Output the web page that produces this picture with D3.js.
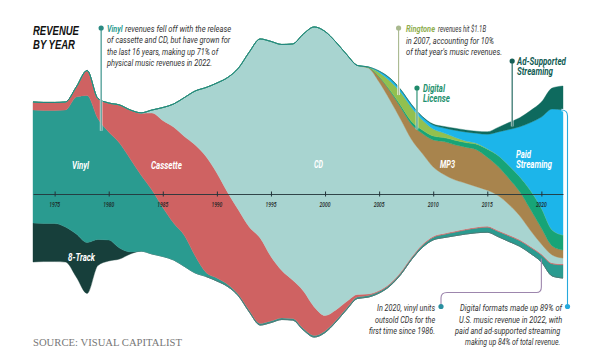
<!DOCTYPE html>
<html><head><meta charset="utf-8">
<script src="https://cdn.jsdelivr.net/npm/d3@7"></script>
<style>
html,body{margin:0;padding:0;background:#fff;}
svg{display:block;}
</style></head><body>
<svg id="chart" width="600" height="357"></svg>
<script>
// ---------------- DATA (US music revenue by format, $B, inflation-adjusted) ----------------
const years = [1973,1974,1975,1976,1977,1978,1979,1980,1981,1982,
  1983,1984,1985,1986,1987,1988,1989,1990,1991,1992,
  1993,1994,1995,1996,1997,1998,1999,2000,2001,2002,
  2003,2004,2005,2006,2007,2008,2009,2010,2011,2012,
  2013,2014,2015,2016,2017,2018,2019,2020,2021,2022];

const eightTrack = [3.25,3.17,3.17,2.92,3.58,4.25,2.17,1.75,0.92,0.17,
  0,0,0,0,0,0,0,0,0,0, 0,0,0,0,0,0,0,0,0,0,
  0,0,0,0,0,0,0,0,0,0, 0,0,0,0,0,0,0,0,0,0];

const vinyl = [9.42,9.42,9.42,9.75,11.42,12.25,10.08,9.0,8.75,7.75,
  6.33,5.33,4.08,3.08,2.58,1.42,0.33,0.25,0.17,0.13,
  0.13,0.13,0.13,0.13,0.13,0.13,0.13,0.13,0.13,0.13,
  0.13,0.13,0.13,0.13,0.13,0.13,0.17,0.21,0.25,0.29,
  0.33,0.38,0.42,0.42,0.46,0.46,0.5,0.58,1.0,1.08];

const cassette = [0.67,0.67,0.67,0.67,0.83,2.08,1.67,2.42,3.17,4.08,
  5.17,6.42,7.25,8.0,8.25,9.25,9.67,8.75,7.67,7.04,
  6.96,7.13,5.38,3.96,3.21,3.13,2.38,1.29,0.88,0.54,
  0.21,0.13,0.08,0.08,0.08,0.08,0.08,0.08,0.08,0.08,
  0.08,0.08,0.08,0.08,0.08,0.08,0.08,0.08,0.08,0.08];

const cd = [0,0,0,0,0,0,0,0,0,0,
  0.03,0.25,1.08,1.92,3.25,4.5,5.75,7.5,9.58,11.83,
  14.58,16.58,17.92,18.83,19.67,21.42,23.33,23.67,22.33,20.58,
  19.08,18.83,17.38,15.29,12.71,9.79,7.58,5.79,4.92,4.29,
  3.83,3.38,3.0,2.92,2.54,2.0,1.33,0.83,0.67,0.5];

const mp3 = [0,0,0,0,0,0,0,0,0,0, 0,0,0,0,0,0,0,0,0,0, 0,0,0,0,0,0,0,0,0,0,
  0,0.05,0.42,0.75,1.0,1.25,1.67,2.25,2.75,2.92,
  3.0,3.08,2.75,2.42,2.17,2.0,1.75,1.33,0.75,0.67];

const digitalLicense = [0,0,0,0,0,0,0,0,0,0, 0,0,0,0,0,0,0,0,0,0, 0,0,0,0,0,0,0,0,0,0,
  0,0.01,0.04,0.08,0.17,0.25,0.29,0.33,0.33,0.38,
  0.38,0.46,0.67,0.92,1.08,1.25,1.58,1.67,1.33,1.25];

const ringtone = [0,0,0,0,0,0,0,0,0,0, 0,0,0,0,0,0,0,0,0,0, 0,0,0,0,0,0,0,0,0,0,
  0,0.02,0.33,0.75,1.08,1.17,0.83,0.58,0.38,0.25,
  0.13,0.08,0.03,0,0,0,0,0,0,0];

const paidStreaming = [0,0,0,0,0,0,0,0,0,0, 0,0,0,0,0,0,0,0,0,0, 0,0,0,0,0,0,0,0,0,0,
  0,0.01,0.11,0.21,0.21,0.21,0.25,0.33,0.42,0.58,
  0.75,0.83,1.21,1.96,3.0,4.17,5.67,7.58,10.08,10.42];

const adSupported = [0,0,0,0,0,0,0,0,0,0, 0,0,0,0,0,0,0,0,0,0, 0,0,0,0,0,0,0,0,0,0,
  0,0,0.02,0.04,0.04,0.04,0.04,0.08,0.13,0.17,
  0.17,0.17,0.21,0.38,0.58,0.75,1.0,1.25,1.75,2.0];

const tickYears = [1975,1980,1985,1990,1995,2000,2005,2010,2015,2020];

// ---------------- STYLE ----------------
const keys = ["eightTrack","vinyl","cassette","cd","mp3","digitalLicense","ringtone","paidStreaming","adSupported"];
const colors = {
  eightTrack:"#173f3b", vinyl:"#2a9b90", cassette:"#cf6262", cd:"#a8d4d0",
  mp3:"#a8844d", digitalLicense:"#17a477", ringtone:"#92c04f",
  paidStreaming:"#1cb5ea", adSupported:"#0e6a5e"
};
const SANS = "Roboto, 'Noto Sans', sans-serif";
const seriesByKey = {eightTrack, vinyl, cassette, cd, mp3, digitalLicense, ringtone, paidStreaming, adSupported};

const table = years.map((yr, i) => {
  const row = {year: yr};
  keys.forEach(k => row[k] = seriesByKey[k][i]);
  return row;
});

const svg = d3.select("#chart");
const x = d3.scaleLinear().domain([1973, 2022]).range([33, 563]);
const y = d3.scaleLinear().domain([-14.5, 14.5]).range([356, 8]);

const stack = d3.stack().keys(keys).order(d3.stackOrderNone).offset(d3.stackOffsetSilhouette);
const layers = stack(table);

const area = d3.area()
  .x(d => x(d.data.year))
  .y0(d => y(d[0]))
  .y1(d => y(d[1]))
  .curve(d3.curveMonotoneX);

svg.append("g").selectAll("path").data(layers).join("path")
  .attr("d", area)
  .attr("fill", d => colors[d.key])
  .attr("stroke", d => colors[d.key])
  .attr("stroke-width", 0.4);

// thin darker outline along the bottom of the stream
const bottomLine = d3.line().x(d => x(d.data.year)).y(d => y(d[0])).curve(d3.curveMonotoneX);
svg.append("path").attr("d", bottomLine(layers[0].filter(d => d.data.year >= 1989)))
  .attr("fill","none").attr("stroke","#4f6f6c").attr("stroke-width",0.8).attr("opacity",0.8);

// helper: position within a layer at fractional year
function layerY(key, yr, frac) {
  const L = layers[keys.indexOf(key)];
  const i = Math.max(0, Math.min(years.length - 2, Math.floor(yr - years[0])));
  const t = yr - years[i];
  const a = L[i], b = L[i+1];
  const lo = a[0] + (b[0]-a[0])*t, hi = a[1] + (b[1]-a[1])*t;
  return y(lo + (hi - lo) * frac);
}

// ---------------- TEXT HELPER (condensed via horizontal scale) ----------------
function line(xp, yp, txt, width, opt = {}, anchor = "start") {
  const t = svg.append("text").attr("x", 0).attr("y", 0)
    .style("font-family", opt.family || SANS)
    .style("font-size", (opt.size || 9.4) + "px")
    .style("font-style", "italic")
    .style("font-weight", opt.weight || 400)
    .attr("fill", opt.fill || "#333")
    .attr("text-anchor", anchor)
    .text(txt);
  const natural = t.node().getComputedTextLength() || width;
  t.attr("transform", `translate(${xp},${yp}) scale(${width / natural},1)`);
  return t;
}
function dotLine(x0, y0, y1, color) {
  svg.append("line").attr("x1",x0).attr("x2",x0).attr("y1",y0).attr("y2",y1)
    .attr("stroke","#fff").attr("stroke-width",2.6).attr("opacity",0.85);
  svg.append("line").attr("x1",x0).attr("x2",x0).attr("y1",y0).attr("y2",y1)
    .attr("stroke",color).attr("stroke-width",1.1);
  svg.append("circle").attr("cx",x0).attr("cy",y0).attr("r",2.6).attr("fill",color);
}

// ---------------- AXIS ----------------
const axis = d3.axisBottom(x).tickValues(tickYears).tickFormat(d3.format("d"))
  .tickSize(2.5).tickSizeOuter(0).tickPadding(5);
const gAxis = svg.append("g").attr("transform","translate(0,194)").call(axis);
gAxis.select(".domain").attr("stroke","#24343a").attr("stroke-width",0.9);
gAxis.selectAll(".tick line").attr("y1",-2.5).attr("y2",2.5).attr("stroke","#24343a");
gAxis.selectAll(".tick text").remove();
tickYears.forEach(yr => line(x(yr), 206.5, String(yr), 11,
  {size:7, weight:500, fill:"#1c2424"}, "middle"));

// Title
const titleOpt = {size:12.5, weight:700, fill:"#111", family:"'Liberation Sans', Arial, sans-serif"};
line(33, 34.5, "REVENUE", 46, titleOpt);
line(33, 48.5, "BY YEAR", 42, titleOpt);

// Vinyl annotation
dotLine(x(1979.3), 28, layerY("vinyl", 1979.3, 0.93), "#2a8a82");
line(107, 31.5, "Vinyl", 15.5, {weight:700, fill:"#2a9b90"});
line(125, 31.5, "revenues fell off with the release", 106);
line(107, 43, "of cassette and CD, but have grown for", 123);
line(107, 54.5, "the last 16 years, making up 71% of", 111);
line(107, 66, "physical music revenues in 2022.", 105);

// Ringtone annotation
dotLine(x(2006.8), 28, layerY("ringtone", 2006.8, 0.6), "#a9b98f");
line(406, 31.8, "Ringtone", 29, {weight:700, fill:"#8fae4f"});
line(438, 31.8, "revenues hit $1.1B", 48);
line(406, 43.5, "in 2007, accounting for 10%", 88);
line(406, 54.8, "of that year's music revenues.", 96);

// Digital License
dotLine(x(2008.5), 88, layerY("digitalLicense", 2008.5, 0.5) + 2, "#1f8a6b");
line(423, 91.5, "Digital", 22, {weight:700, fill:"#1f9270", size:10});
line(423, 102, "License", 27, {weight:700, fill:"#1f9270", size:10});

// Ad-supported
dotLine(x(2017.3), 61, layerY("adSupported", 2017.3, 0.3), "#155f56");
line(517, 64.5, "Ad-Supported", 49, {weight:700, fill:"#115c53", size:10});
line(517, 75, "Streaming", 36, {weight:700, fill:"#115c53", size:10});

// In-area labels
const lab = {weight:700, fill:"#fff", size:10};
line(72, 168.5, "Vinyl", 17, lab);
line(151, 168.5, "Cassette", 31, lab);
line(314, 167.5, "CD", 9, lab);
line(440, 167.5, "MP3", 15, lab);
line(516, 157.5, "Paid", 15, lab);
line(516, 168, "Streaming", 36, lab);
line(68, 260.5, "8-Track", 27, lab);

// Bottom-left annotation (vinyl outsold CDs)
{
  const xv = x(2020), yEnd = layerY("vinyl", 2020, 0.5);
  const p = d3.path();
  p.moveTo(441, 305); p.lineTo(441, 298);
  p.quadraticCurveTo(441, 292.5, 447, 292.5);
  p.lineTo(xv - 5, 292.5);
  p.quadraticCurveTo(xv, 292.5, xv, 287);
  p.lineTo(xv, yEnd);
  svg.append("path").attr("d", p.toString()).attr("fill","none")
    .attr("stroke","#9d86ad").attr("stroke-width",1.1);
  svg.append("circle").attr("cx",441).attr("cy",306.5).attr("r",2.6).attr("fill","#2a8fa0");
}
line(377, 311, "In 2020, vinyl units", 58);
line(375, 322.5, "outsold CDs for the", 60);
line(369, 333.5, "first time since 1986.", 66);

// Right annotation (digital share)
{
  const yTop = y(layers[keys.indexOf("paidStreaming")][years.length-1][1]);
  const p = d3.path();
  p.moveTo(567.5, 305); p.lineTo(567.5, yTop + 6);
  p.quadraticCurveTo(567.5, yTop, 561.5, yTop);
  svg.append("path").attr("d", p.toString()).attr("fill","none")
    .attr("stroke","#fff").attr("stroke-width",2.6);
  svg.append("path").attr("d", p.toString()).attr("fill","none")
    .attr("stroke","#27a9dc").attr("stroke-width",1.1);
  svg.append("circle").attr("cx",567.5).attr("cy",306.5).attr("r",2.6).attr("fill","#27a9dc");
}
line(460, 311, "Digital formats made up 89% of", 102);
line(459, 322.5, "U.S. music revenue in 2022, with", 103);
line(455, 333.5, "paid and ad-supported streaming", 105);
line(465, 345, "making up 84% of total revenue.", 95);

// Source
{
  const t = svg.append("text").attr("x",0).attr("y",0)
    .style("font-family","'Liberation Serif','DejaVu Serif',serif")
    .style("font-size","11px").attr("fill","#777")
    .text("SOURCE: VISUAL CAPITALIST");
  const n = t.node().getComputedTextLength();
  t.attr("transform", `translate(33,345.5) scale(${149 / n},1)`);
}
</script>
</body></html>
